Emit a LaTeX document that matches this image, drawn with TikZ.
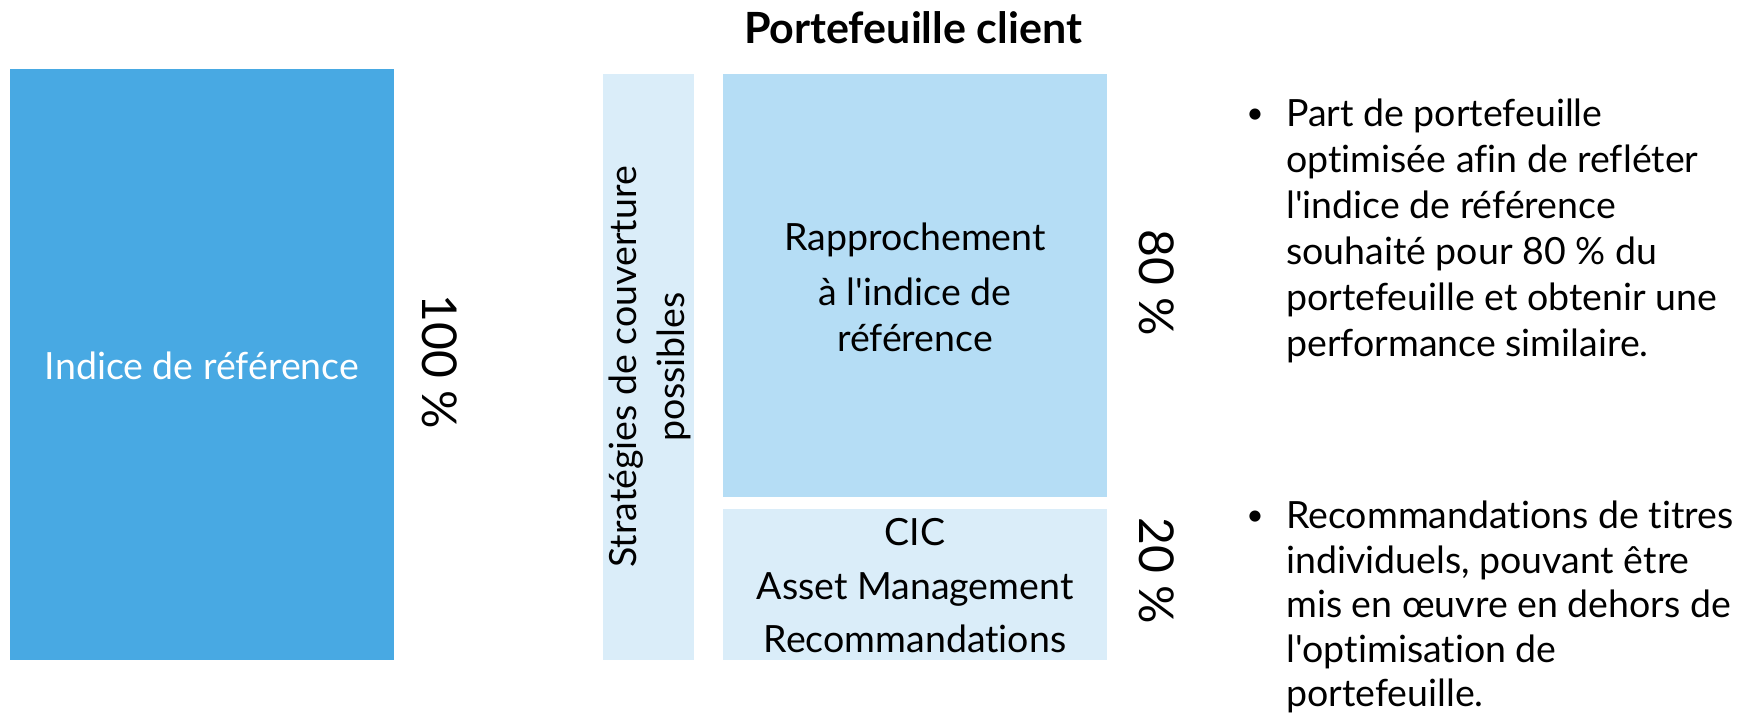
\documentclass[tikz,border=0pt]{standalone}
\usepackage{fontspec}
\setmainfont{Lato}[Ligatures=NoCommon]
\definecolor{cdark}{HTML}{48A9E3}
\definecolor{cmid}{HTML}{B5DDF5}
\definecolor{clight}{HTML}{DAEDF9}
\newcommand{\apo}{\textquotesingle}
\begin{document}
\begin{tikzpicture}[x=1pt,y=-1pt,
  blk/.style={inner sep=0pt, outer sep=0pt, anchor=north west, draw=none},
  body/.style={font=\fontsize{37.5}{46}\selectfont, inner sep=0pt, text=black},
  pct/.style={font=\fontsize{48}{58}\selectfont, inner sep=0pt, rotate=-90},
  bul/.style={body, align=left, anchor=west},
  dot/.style={font=\fontsize{30}{36}\selectfont, inner sep=0pt},
]
\useasboundingbox (0,0) rectangle (1752,713);
% blocks
\node[blk, fill=cdark, minimum width=384pt, minimum height=591pt] (idx) at (10,69) {};
\node[blk, fill=clight, minimum width=91pt, minimum height=586pt] (strat) at (603,74) {};
\node[blk, fill=cmid, minimum width=384pt, minimum height=423pt] (rapp) at (723,74) {};
\node[blk, fill=clight, minimum width=384pt, minimum height=151pt] (cic) at (723,509) {};
% title
\node[font=\fontsize{43}{50}\bfseries\selectfont, inner sep=0pt] (title) at (913,28) {Portefeuille client};
% texts in blocks
\node[body, text=white] (idxt) at (202,366) {Indice de référence};
\node[font=\fontsize{37.5}{48}\selectfont, inner sep=0pt, rotate=90, align=center] (stratt) at (650,367) {Stratégies de couverture\\possibles};
\node[body, align=center] (rappt) at (915,287) {Rapprochement\\[9pt]à l\apo indice de\\référence};
\node[body, align=center, font=\fontsize{37.5}{53.5}\selectfont] (cict) at (915,586) {CIC\\Asset Management\\Recommandations};
% percentages
\node[pct] (p100) at (440,362) {100 \%};
\node[pct] (p80) at (1157,283) {80 \%};
\node[pct] (p20) at (1157,571) {20 \%};
% bullets
\node[dot] (b1) at (1255,116) {•};
\node[bul] (t1) at (1286,231) {Part de portefeuille\\optimisée afin de refléter\\l\apo indice de référence\\souhaité pour 80 \% du\\portefeuille et obtenir une\\performance similaire.};
\node[dot] (b2) at (1255,518) {•};
\node[bul, font=\fontsize{37.5}{44.5}\selectfont] (t2) at (1286,607) {Recommandations de titres\\individuels, pouvant être\\mis en œuvre en dehors de\\l\apo optimisation de\\portefeuille.};
\end{tikzpicture}
\end{document}
